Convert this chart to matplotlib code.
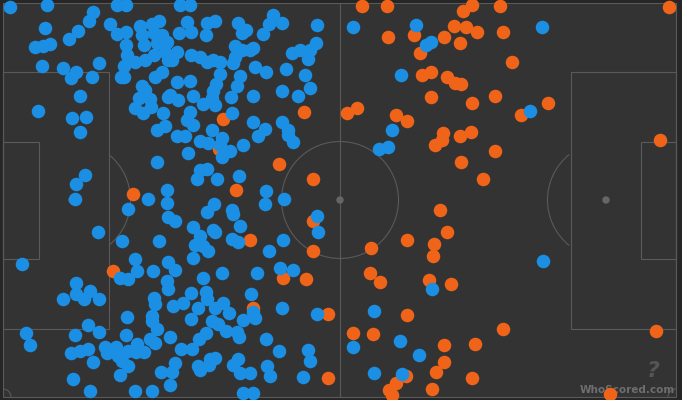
import matplotlib
matplotlib.use("Agg")
import matplotlib.pyplot as plt
from matplotlib.patches import Rectangle, Arc, Circle

# 触球位置 (像素坐标, 画布 682x400, y 向下)
blue_x = [10, 47, 93, 89, 110, 117, 126, 45, 78, 69, 35, 43, 50, 117, 126, 140, 152, 159, 142, 154,
          162, 126, 144, 157, 167, 127, 135, 145, 154, 165, 99, 42, 63, 76, 71, 92, 124, 121, 124, 162,
          155, 168, 142, 145, 139, 150, 80, 168, 135, 143, 151, 38, 72, 86, 163, 80, 157, 165,
          180, 190, 187, 207, 215, 179, 191, 206, 238, 246, 242, 273, 269, 282, 263, 317, 235, 242,
          250, 253, 177, 172, 191, 200, 207, 213, 220, 235, 233, 292, 300, 310, 316, 308, 255, 266,
          286, 220, 240, 237, 216, 213, 177, 190, 305, 310, 282, 193, 178, 170, 212, 203, 215, 231,
          253, 298, 190, 187, 193, 232, 253, 265, 258, 282, 288, 212,
          157, 85, 76, 75, 148, 128, 167, 167, 168, 98, 122, 159, 22, 135, 168,
          177, 185, 200, 208, 222, 220, 230, 222, 243, 293, 288, 188, 200, 207, 197, 217, 239, 266,
          265, 284, 214, 207, 232, 233, 317, 318, 175, 193, 200, 195, 203, 208, 213, 215, 240, 232,
          238, 283, 269, 193,
          379, 388, 353, 416, 426, 431, 401, 392, 542, 530, 543,
          120, 128, 137, 153, 76, 76, 84, 90, 99, 63, 167, 168, 154, 155, 127, 152, 152, 88, 99, 26,
          30, 75, 126, 157, 170, 150, 155, 105, 116, 107, 128, 137, 136, 144, 71, 80, 88, 118, 122,
          128, 93, 120, 161, 172, 73, 90, 135, 152, 170,
          175, 203, 222, 257, 280, 293, 191, 206, 207, 183, 173, 198, 215, 223, 229, 251, 253, 255,
          243, 282, 317, 191, 212, 218, 226, 237, 239, 199, 206, 181, 192, 266, 279, 308, 310, 210,
          215, 209, 198, 200, 238, 233, 240, 175, 250, 267, 270, 303, 243, 253,
          432, 374, 353, 400, 419, 374, 402]
blue_y = [7, 5, 12, 21, 24, 5, 5, 28, 31, 39, 47, 46, 44, 34, 32, 26, 24, 21, 35, 33,
          35, 45, 45, 43, 42, 55, 62, 60, 55, 52, 63, 66, 68, 72, 78, 77, 66, 77, 77, 72,
          77, 60, 86, 90, 98, 99, 96, 97, 108, 113, 107, 111, 118, 117, 113, 132, 130, 126,
          5, 5, 22, 23, 21, 33, 32, 35, 23, 30, 33, 15, 24, 23, 34, 25, 46, 50,
          50, 48, 52, 60, 55, 57, 62, 60, 62, 57, 63, 53, 50, 50, 43, 59, 67, 72,
          69, 74, 76, 86, 84, 91, 82, 81, 75, 88, 91, 96, 100, 95, 98, 104, 105, 97,
          96, 96, 112, 120, 125, 113, 122, 129, 136, 122, 130, 130,
          162, 175, 184, 199, 199, 209, 190, 203, 217, 232, 241, 241, 264, 259, 262,
          136, 136, 141, 143, 138, 145, 151, 157, 145, 142, 135, 153, 170, 169, 179, 179, 176, 191,
          204, 199, 204, 212, 210, 214, 216, 232, 221, 227, 236, 245, 246, 251, 230, 232, 226, 239,
          242, 240, 251, 258,
          149, 147, 27, 25, 45, 42, 75, 130, 27, 111, 261,
          278, 279, 271, 271, 283, 294, 299, 291, 299, 299, 281, 289, 298, 304, 317, 316, 321, 325, 332, 333,
          345, 335, 335, 329, 337, 339, 343, 347, 347, 353, 351, 344, 352, 352, 353, 351, 349, 356, 361,
          366, 362, 375, 372, 372, 379, 391, 391, 391, 385,
          270, 278, 273, 273, 268, 270, 293, 292, 299, 303, 306, 308, 308, 303, 313, 294, 312, 318,
          320, 308, 314, 319, 321, 324, 331, 332, 337, 339, 333, 349, 349, 339, 351, 350, 361, 359,
          358, 365, 366, 370, 359, 365, 373, 363, 373, 366, 376, 377, 393, 393,
          289, 311, 347, 341, 355, 373, 374]

orange_x = [223, 304, 362, 387, 463, 472, 500, 414, 388, 454, 466, 477, 444, 460, 503, 420, 512, 422,
            431, 447, 455, 461, 431, 495, 472, 347, 357, 396, 407, 443, 442, 435, 460, 471, 495, 461,
            483, 440, 447, 407, 434, 433, 371, 669, 548, 521, 660, 133, 113, 219, 279, 313, 236, 313,
            250, 313, 283, 306, 253, 328, 328, 370, 380, 429, 451, 407, 503, 353, 373, 444, 475, 444,
            436, 406, 472, 396, 389, 392, 432, 656, 610]
orange_y = [119, 112, 6, 6, 11, 5, 6, 35, 37, 26, 27, 32, 37, 43, 32, 53, 62, 75,
            72, 77, 83, 84, 97, 96, 103, 113, 108, 115, 121, 133, 140, 145, 136, 132, 151, 162,
            179, 210, 232, 240, 244, 256, 248, 7, 103, 115, 140, 194, 271, 149, 164, 179, 190, 221,
            240, 251, 278, 279, 308, 314, 378, 273, 282, 280, 284, 315, 329, 333, 334, 345, 344, 362,
            372, 376, 378, 383, 390, 395, 389, 331, 394]

BLUE = '#1a8fe3'
ORANGE = '#ef6418'
LINE = '#5a5a5a'

fig = plt.figure(figsize=(6.82, 4.0), dpi=100, facecolor='#262626')
ax = fig.add_axes([0, 0, 1, 1])
ax.set_xlim(0, 682)
ax.set_ylim(400, 0)
ax.axis('off')

# 球场
L, R, T, B = 3, 676, 3, 397
mx, my = 340, 200
lw = 0.8
ax.add_patch(Rectangle((L, T), R - L, B - T, facecolor='#333333', edgecolor=LINE, lw=lw, zorder=0))
ax.plot([mx, mx], [T, B], color=LINE, lw=lw, zorder=1)
ax.add_patch(Circle((mx, my), 58.5, fill=False, edgecolor=LINE, lw=lw, zorder=1))
ax.add_patch(Circle((mx, my), 3, color='#666666', zorder=1))
# 禁区 / 小禁区
ax.add_patch(Rectangle((L, 72), 106, 257, fill=False, edgecolor=LINE, lw=lw, zorder=1))
ax.add_patch(Rectangle((L, 142), 36, 117, fill=False, edgecolor=LINE, lw=lw, zorder=1))
ax.add_patch(Rectangle((571, 72), R - 571, 257, fill=False, edgecolor=LINE, lw=lw, zorder=1))
ax.add_patch(Rectangle((641, 142), R - 641, 117, fill=False, edgecolor=LINE, lw=lw, zorder=1))
ax.add_patch(Circle((72, my), 3, color='#666666', zorder=1))
ax.add_patch(Circle((606, my), 3, color='#666666', zorder=1))
ax.add_patch(Arc((72, my), 117, 117, theta1=-51, theta2=51, edgecolor=LINE, lw=lw, zorder=1))
ax.add_patch(Arc((606, my), 117, 117, theta1=129, theta2=231, edgecolor=LINE, lw=lw, zorder=1))
# 角球弧
for cx, cy, t1 in [(L, T, 0), (R, T, 90), (R, B, 180), (L, B, 270)]:
    ax.add_patch(Arc((cx, cy), 16, 16, theta1=t1, theta2=t1 + 90, edgecolor=LINE, lw=lw, zorder=1))

# 水印
ax.text(653, 371, '?', fontsize=16, fontweight='bold', style='italic', color='#555555',
        ha='center', va='center', zorder=1.5)
ax.text(675, 395, 'WhoScored.com', fontsize=7.5, fontweight='bold', color='#6e6e6e',
        ha='right', va='bottom', zorder=1.6)

# 散点
ax.scatter(orange_x, orange_y, s=95, color=ORANGE, linewidths=0, zorder=2)
ax.scatter(blue_x, blue_y, s=95, color=BLUE, linewidths=0, zorder=3)

fig.savefig('out.png', dpi=100, facecolor=fig.get_facecolor())
